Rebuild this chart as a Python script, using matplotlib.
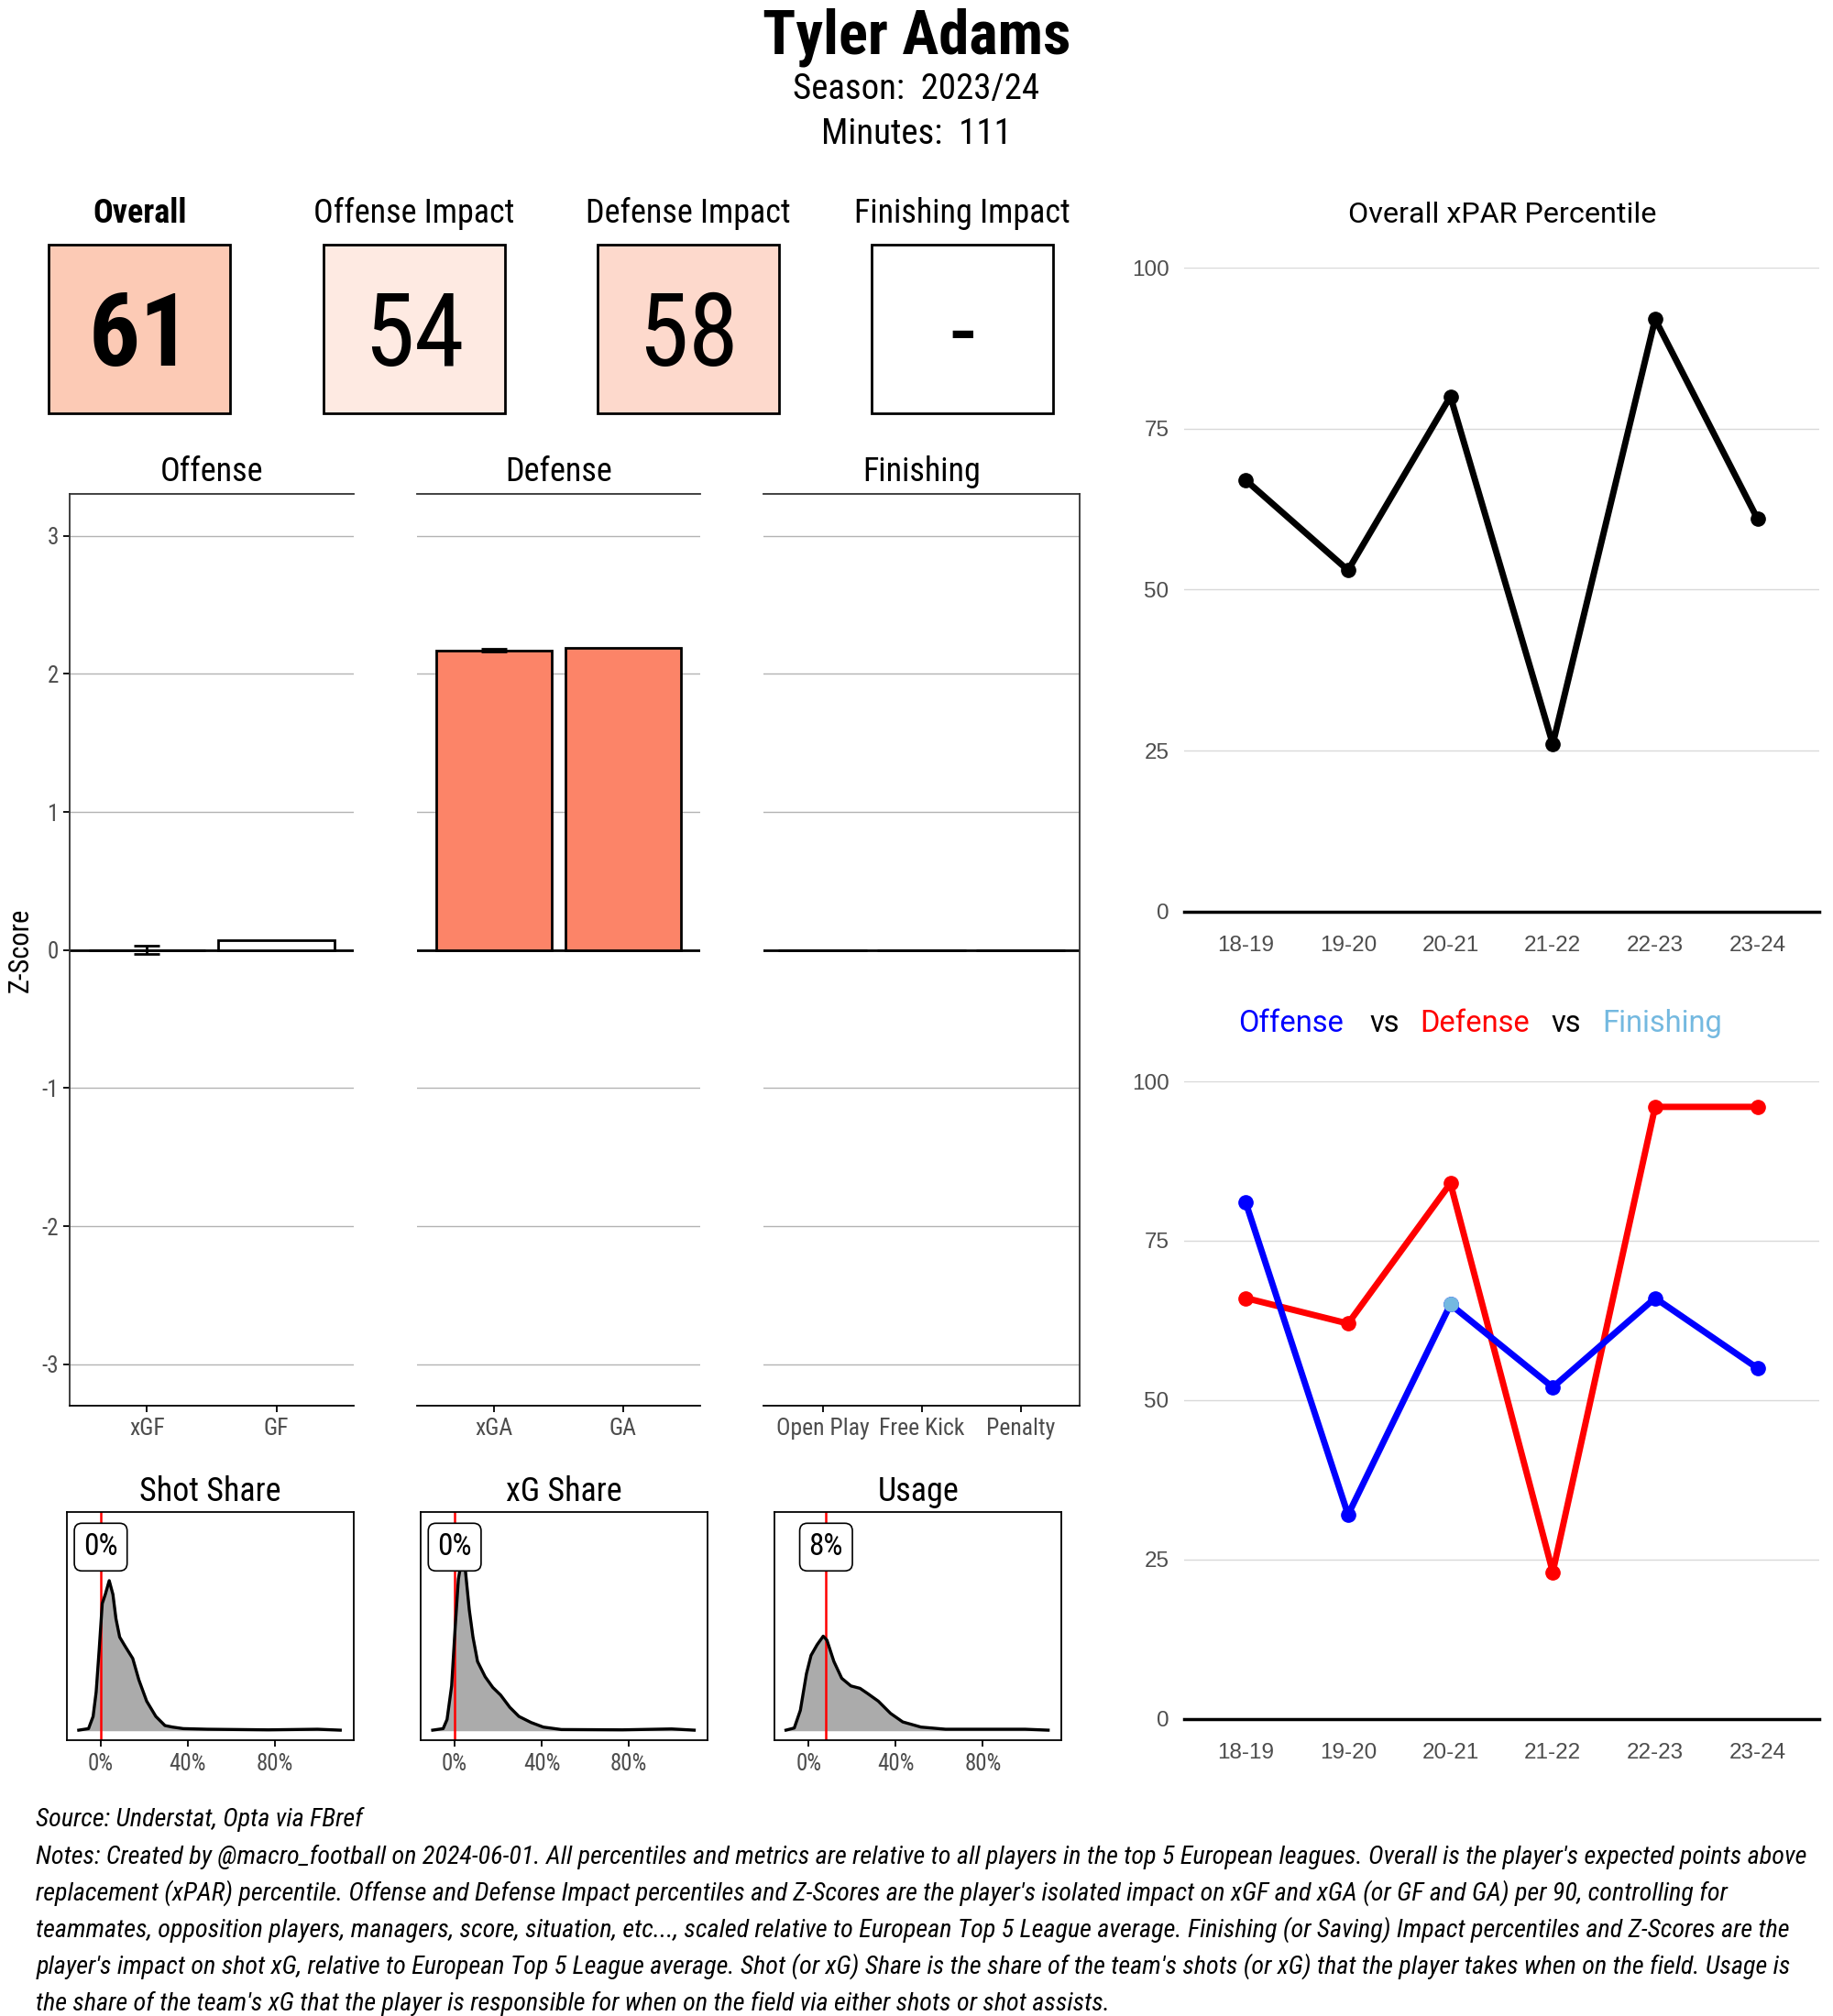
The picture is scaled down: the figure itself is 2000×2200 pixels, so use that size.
import numpy as np
import matplotlib
matplotlib.use('Agg')
import matplotlib.pyplot as plt
from matplotlib import font_manager as fm
from matplotlib.patches import Rectangle

installed = {f.name for f in fm.fontManager.ttflist}
cond = next((f for f in ['Roboto Condensed', 'Liberation Sans Narrow', 'Roboto'] if f in installed), 'DejaVu Sans')
plain = 'Roboto' if 'Roboto' in installed else 'DejaVu Sans'
arial = 'Liberation Sans' if 'Liberation Sans' in installed else 'DejaVu Sans'
plt.rcParams['font.family'] = [cond, 'DejaVu Sans']
plt.rcParams['axes.unicode_minus'] = False

# ---- data ----
player = 'Tyler Adams'
season = '2023/24'
minutes = 111

box_labels = ['Overall', 'Offense Impact', 'Defense Impact', 'Finishing Impact']
box_values = ['61', '54', '58', '-']
box_colors = ['#FCCAB5', '#FEEAE2', '#FDD9CC', '#FFFFFF']

off_cats = ['xGF', 'GF']
off_z = [0.0, 0.07]
off_err = [0.03, None]
off_fill = ['#FFFFFF', '#FFFFFF']
def_cats = ['xGA', 'GA']
def_z = [2.17, 2.19]
def_err = [0.01, None]
def_fill = ['#FC8468', '#FC8468']
fin_cats = ['Open Play', 'Free Kick', 'Penalty']
fin_z = [0.0, 0.0, 0.0]
fin_err = [None, None, None]
fin_fill = ['#FFFFFF', '#FFFFFF', '#FFFFFF']

seasons = ['18-19', '19-20', '20-21', '21-22', '22-23', '23-24']
overall_pct = [67, 53, 80, 26, 92, 61]
offense_pct = [81, 32, 65, 52, 66, 55]
defense_pct = [66, 62, 84, 23, 96, 96]
finishing_pct = [np.nan, np.nan, 65, np.nan, np.nan, np.nan]

# density curves (x = share, y = relative height)
shot_x = [-0.101, -0.056, -0.035, -0.021, -0.007, 0.007, 0.021, 0.039, 0.056, 0.070, 0.087,
          0.112, 0.147, 0.175, 0.211, 0.253, 0.295, 0.33, 0.379, 0.49, 0.63, 0.77, 0.996, 1.10]
shot_y = [0.0, 0.05, 0.45, 1.25, 2.65, 4.15, 4.45, 4.90, 4.45, 3.65, 3.05,
          2.75, 2.35, 1.65, 0.95, 0.45, 0.15, 0.10, 0.05, 0.03, 0.02, 0.01, 0.03, 0.0]
xg_x = [-0.101, -0.053, -0.035, -0.014, 0.003, 0.017, 0.031, 0.049, 0.067, 0.084, 0.105,
        0.140, 0.175, 0.211, 0.253, 0.295, 0.351, 0.407, 0.49, 0.77, 0.996, 1.10]
xg_y = [0.0, 0.05, 0.35, 1.45, 3.45, 4.95, 5.55, 5.25, 3.95, 3.05, 2.25,
        1.75, 1.40, 1.15, 0.75, 0.45, 0.25, 0.10, 0.02, 0.01, 0.04, 0.0]
usage_x = [-0.104, -0.066, -0.038, -0.010, 0.011, 0.039, 0.067, 0.084, 0.116, 0.152, 0.194,
           0.236, 0.271, 0.320, 0.376, 0.432, 0.516, 0.629, 0.77, 0.994, 1.10]
usage_y = [0.0, 0.07, 0.65, 1.85, 2.45, 2.80, 3.08, 2.95, 2.25, 1.70, 1.45,
           1.37, 1.20, 0.95, 0.55, 0.27, 0.10, 0.03, 0.03, 0.03, 0.0]
dens_titles = ['Shot Share', 'xG Share', 'Usage']
dens_player = [0.0, 0.0, 0.08]
dens_labels = ['0%', '0%', '8%']

notes = [
    "Source: Understat, Opta via FBref",
    "Notes: Created by @macro_football on 2024-06-01. All percentiles and metrics are relative to all players in the top 5 European leagues. Overall is the player's expected points above",
    "replacement (xPAR) percentile. Offense and Defense Impact percentiles and Z-Scores are the player's isolated impact on xGF and xGA (or GF and GA) per 90, controlling for",
    "teammates, opposition players, managers, score, situation, etc..., scaled relative to European Top 5 League average. Finishing (or Saving) Impact percentiles and Z-Scores are the",
    "player's impact on shot xG, relative to European Top 5 League average. Shot (or xG) Share is the share of the team's shots (or xG) that the player takes when on the field. Usage is",
    "the share of the team's xG that the player is responsible for when on the field via either shots or shot assists.",
]

fig = plt.figure(figsize=(20, 22), dpi=100)

# ---- header ----
fig.text(0.5, 0.9732, player, ha='center', va='baseline', fontsize=48, fontweight='bold')
fig.text(0.5, 0.9508, f'Season:  {season}', ha='center', va='baseline', fontsize=28)
fig.text(0.5, 0.9285, f'Minutes:  {minutes}', ha='center', va='baseline', fontsize=28)

# ---- percentile boxes ----
box_left = [0.0267, 0.1763, 0.3258, 0.4754]
for i, (lab, val, col) in enumerate(zip(box_labels, box_values, box_colors)):
    x0 = box_left[i]
    fig.patches.append(Rectangle((x0, 0.795), 0.099, 0.0837, transform=fig.transFigure,
                                 facecolor=col, edgecolor='black', linewidth=2))
    fig.text(x0 + 0.0495, 0.8895, lab, ha='center', va='baseline', fontsize=26,
             fontweight='bold' if i == 0 else 'normal')
    fig.text(x0 + 0.0495, 0.8187, val, ha='center', va='baseline', fontsize=80,
             fontweight='bold' if i == 0 else 'normal')

# ---- z-score bar panels ----
panels = [
    ('Offense', off_cats, off_z, off_err, off_fill, [0.0379, 0.1552], ['left', 'top', 'bottom']),
    ('Defense', def_cats, def_z, def_err, def_fill, [0.2275, 0.1545], ['top', 'bottom']),
    ('Finishing', fin_cats, fin_z, fin_err, fin_fill, [0.4164, 0.1728], ['right', 'top', 'bottom']),
]
for name, cats, vals, errs, fills, (l, w), spines in panels:
    ax = fig.add_axes([l, 0.3027, w, 0.4521])
    pos = np.arange(1, len(cats) + 1)
    ax.bar(pos, vals, width=0.9, color=fills, edgecolor='black', linewidth=2, zorder=3)
    for p, v, e in zip(pos, vals, errs):
        if e is not None:
            ax.errorbar(p, v, yerr=e, fmt='none', ecolor='black', elinewidth=2,
                        capsize=10, capthick=2, zorder=4)
    ax.axhline(0, color='black', linewidth=2, zorder=2)
    ax.set_xlim(0.4, len(cats) + 0.6)
    ax.set_ylim(-3.3, 3.3)
    ax.set_yticks([-3, -2, -1, 0, 1, 2, 3])
    ax.grid(axis='y', color='#B3B3B3', linewidth=1, zorder=0)
    ax.set_xticks(pos)
    ax.set_xticklabels(cats, fontsize=18.5, color='#4D4D4D')
    for s in ['left', 'right', 'top', 'bottom']:
        ax.spines[s].set_visible(s in spines)
        ax.spines[s].set_linewidth(1.3)
        ax.spines[s].set_color('#333333')
    ax.spines['bottom'].set_color('black')
    ax.tick_params(axis='x', length=5, width=1.3, pad=4)
    if 'left' in spines:
        ax.tick_params(axis='y', length=5, width=1.3, labelsize=18, labelcolor='#4D4D4D')
        ax.set_ylabel('Z-Score', fontsize=22, labelpad=6)
    else:
        ax.tick_params(axis='y', length=0, labelleft=False)
    fig.text(l + w / 2, 0.7612, name, ha='center', va='baseline', fontsize=26)

# ---- density panels ----
dens = [(shot_x, shot_y), (xg_x, xg_y), (usage_x, usage_y)]
dens_left = [0.0363, 0.2294, 0.4225]
for i, ((xs, ys), title, pv, plab) in enumerate(zip(dens, dens_titles, dens_player, dens_labels)):
    ax = fig.add_axes([dens_left[i], 0.1368, 0.1567, 0.1132])
    ax.fill_between(xs, ys, 0, color='#ABABAB', zorder=1)
    ax.plot(xs, ys, color='black', linewidth=2.4, zorder=3)
    ax.axvline(pv, color='red', linewidth=1.8, zorder=2)
    ax.text(pv, 6.0, plab, ha='center', va='center', fontsize=24, zorder=5,
            bbox=dict(boxstyle='round,pad=0.3,rounding_size=0.25', facecolor='white',
                      edgecolor='black', linewidth=1.2))
    ax.set_xlim(-0.157, 1.162)
    ax.set_ylim(-0.33, 7.15)
    ax.set_yticks([])
    ax.set_xticks([0, 0.4, 0.8])
    ax.set_xticklabels(['0%', '40%', '80%'], fontsize=18, color='#4D4D4D')
    ax.tick_params(axis='x', length=5, width=1.3, pad=5)
    for s in ax.spines.values():
        s.set_linewidth(1.3)
    fig.text(dens_left[i] + 0.0784, 0.2554, title, ha='center', va='baseline', fontsize=26)

# ---- right hand percentile charts ----
def pct_axes(rect):
    ax = fig.add_axes(rect)
    ax.set_xlim(0.4, 6.6)
    ax.set_ylim(0, 100)
    ax.set_yticks([0, 25, 50, 75, 100])
    ax.grid(axis='y', color='#D9D9D9', linewidth=1, zorder=0)
    ax.axhline(0, color='black', linewidth=2.5, zorder=2, clip_on=False)
    ax.set_xticks(range(1, 7))
    ax.set_xticklabels(seasons)
    for s in ax.spines.values():
        s.set_visible(False)
    ax.tick_params(length=0, labelsize=17.5, labelcolor='#4D4D4D')
    ax.tick_params(axis='x', pad=19)
    ax.tick_params(axis='y', pad=12)
    for t in ax.get_xticklabels() + ax.get_yticklabels():
        t.set_fontfamily(arial)
    return ax

x = np.arange(1, 7)
ax = pct_axes([0.6461, 0.5479, 0.3462, 0.3193])
ax.plot(x, overall_pct, color='black', linewidth=5, marker='o', markersize=11,
        zorder=4, clip_on=False)
fig.text(0.8195, 0.8895, 'Overall xPAR Percentile', ha='center', va='baseline',
         fontsize=23.3, family=plain)

ax = pct_axes([0.6461, 0.1475, 0.3462, 0.3161])
ax.plot(x, offense_pct, color='#0000FF', linewidth=5, marker='o', markersize=11,
        zorder=4, clip_on=False)
ax.plot(x, defense_pct, color='#FF0000', linewidth=5, marker='o', markersize=11,
        zorder=3, clip_on=False)
ax.plot(x, finishing_pct, color='#74B9E0', linewidth=5, marker='o', markersize=11,
        zorder=5, clip_on=False)
for word, xc, col in [('Offense', 0.7044, '#0000FF'), ('vs', 0.7556, 'black'),
                      ('Defense', 0.8048, '#FF0000'), ('vs', 0.8546, 'black'),
                      ('Finishing', 0.9066, '#74B9E0')]:
    fig.text(xc, 0.4880, word, ha='center', va='baseline', fontsize=23.5, color=col, family=plain)

# ---- footer ----
for i, line in enumerate(notes):
    fig.text(0.0197, 0.0939 - i * 0.01826, line, ha='left', va='baseline',
             fontsize=20.25, style='italic')

fig.savefig('out.png', dpi=100, facecolor='white')
